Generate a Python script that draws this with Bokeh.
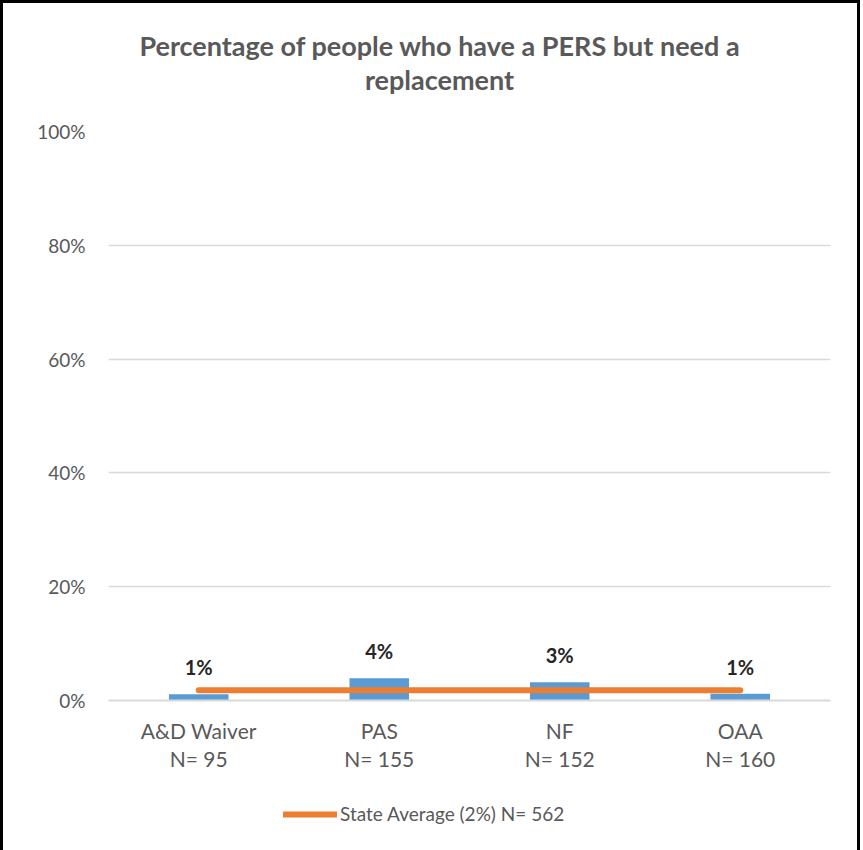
from bokeh.plotting import figure
from bokeh.layouts import column
from bokeh.models import (FactorRange, Range1d, Legend, LegendItem, Div,
                          NumeralTickFormatter, FixedTicker, ColumnDataSource,
                          CategoricalAxis, CustomJSTickFormatter)
from bokeh.core.properties import value
from bokeh.embed import file_html
from bokeh.resources import INLINE

# ---- data ----
categories = ["A&D Waiver", "PAS", "NF", "OAA"]
n_labels = ["N= 95", "N= 155", "N= 152", "N= 160"]
pct_values = [0.011, 0.039, 0.032, 0.012]
pct_labels = ["1%", "4%", "3%", "1%"]
state_avg = [0.018, 0.018, 0.018, 0.018]
legend_label = "State Average (2%) N= 562"
title_line1 = "Percentage of people who have a PERS but need a"
title_line2 = "replacement"
y_ticks = [0, 0.2, 0.4, 0.6, 0.8, 1.0]

FONT = "Lato"
GRAY = "#595959"
ORANGE = "#ED7D31"
W = 854

title = Div(text=f"{title_line1}<br>{title_line2}", width=W, height=100, margin=0,
            styles={"font-family": FONT, "font-weight": "bold", "font-size": "27px",
                    "line-height": "34px", "color": GRAY, "text-align": "center",
                    "padding-top": "26px", "padding-left": "19px",
                    "box-sizing": "border-box", "width": f"{W}px"})

x_range = FactorRange(*categories, range_padding=0)
p = figure(x_range=x_range,
           y_range=Range1d(0, 1),
           frame_width=722, frame_height=569, margin=0,
           output_backend="svg", toolbar_location=None,
           min_border_left=105, min_border_right=27,
           min_border_top=28, min_border_bottom=10)
p.outline_line_color = None
p.background_fill_color = "white"
p.border_fill_color = "white"

src = ColumnDataSource(dict(x=categories, y=pct_values, lab=pct_labels, avg=state_avg))

p.vbar(x="x", top="y", bottom=0, width=0.33, source=src,
       fill_color="#5B9BD5", line_color=None)
p.line(x="x", y="avg", source=src, line_color=ORANGE,
       line_width=6, line_cap="round")
p.text(x="x", y="y", text="lab", source=src, text_align="center",
       text_baseline="alphabetic", y_offset=-27,
       text_font=value(FONT), text_font_style="bold",
       text_font_size="20px", text_color="#262626")

# axes
p.yaxis.ticker = FixedTicker(ticks=y_ticks)
p.yaxis.formatter = NumeralTickFormatter(format="0%")
p.yaxis.axis_line_color = None
p.yaxis.major_tick_line_color = None
p.yaxis.minor_tick_line_color = None
p.yaxis.major_label_text_font = FONT
p.yaxis.major_label_text_font_size = "19px"
p.yaxis.major_label_text_color = GRAY
p.yaxis.major_label_standoff = 17

p.xaxis.axis_line_color = "#D9D9D9"
p.xaxis.axis_line_width = 2
p.xaxis.major_tick_line_color = None
p.xaxis.minor_tick_line_color = None
p.xaxis.major_label_text_font = FONT
p.xaxis.major_label_text_font_size = "21px"
p.xaxis.major_label_text_color = GRAY
p.xaxis.major_label_standoff = 11

n_axis = CategoricalAxis(
    formatter=CustomJSTickFormatter(
        args=dict(cats=categories, labs=n_labels),
        code="const i = cats.indexOf(tick); return i >= 0 ? labs[i] : tick;"),
    axis_line_color=None, major_tick_line_color=None,
    minor_tick_line_color=None,
    major_label_text_font=FONT,
    major_label_text_font_size="21px",
    major_label_text_color=GRAY,
    major_label_standoff=-6)
p.add_layout(n_axis, "below")

p.xgrid.grid_line_color = None
p.ygrid.grid_line_color = "#D9D9D9"
p.ygrid.grid_line_width = 1.5

# legend strip below the chart (the series is drawn out of view; only its legend shows)
lg = figure(width=W, height=80, margin=0, output_backend="svg",
            toolbar_location=None, x_axis_location=None, y_axis_location=None,
            x_range=x_range, y_range=Range1d(1, 2),
            min_border=0)
lg.outline_line_color = None
lg.grid.visible = False
lg_line = lg.line(x="x", y="avg", source=src, line_color=ORANGE,
                  line_width=6, line_cap="round")
legend = Legend(items=[LegendItem(label=legend_label, renderers=[lg_line])],
                location=(175, 28), orientation="horizontal",
                label_text_font=FONT, label_text_font_size="19px",
                label_text_color=GRAY, glyph_width=54, glyph_height=20,
                label_standoff=3, border_line_color=None,
                background_fill_alpha=0, margin=0, padding=0)
lg.add_layout(legend, "center")

layout = column(title, p, lg, spacing=0,
                styles={"border": "3px solid black", "background": "white"})

open("out.html", "w").write(file_html(layout, INLINE))
